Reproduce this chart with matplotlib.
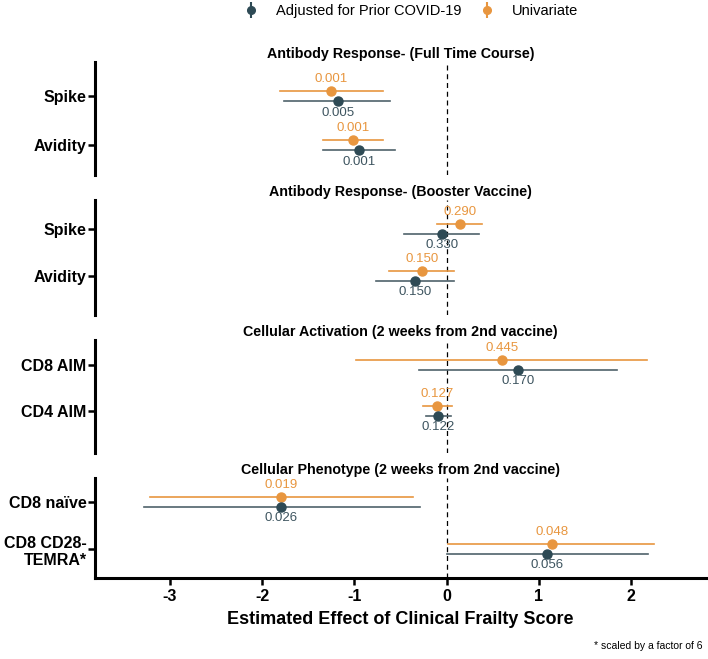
import matplotlib
matplotlib.use("Agg")
import matplotlib.pyplot as plt
from matplotlib.lines import Line2D
from matplotlib.legend_handler import HandlerTuple

# Panel titles and row labels (top row first)
titles = ["Antibody Response- (Full Time Course)",
          "Antibody Response- (Booster Vaccine)",
          "Cellular Activation (2 weeks from 2nd vaccine)",
          "Cellular Phenotype (2 weeks from 2nd vaccine)"]
rows = [["Spike", "Avidity"],
        ["Spike", "Avidity"],
        ["CD8 AIM", "CD4 AIM"],
        ["CD8 naïve", "CD8 CD28-\nTEMRA*"]]

# Univariate estimates
uni_est = [[-1.25, -1.01], [0.14, -0.27], [0.60, -0.10], [-1.79, 1.14]]
uni_lo = [[-1.81, -1.34], [-0.10, -0.63], [-0.98, -0.26], [-3.21, 0.02]]
uni_hi = [[-0.69, -0.69], [0.38, 0.08], [2.17, 0.06], [-0.36, 2.25]]
uni_p = [["0.001", "0.001"], ["0.290", "0.150"], ["0.445", "0.127"], ["0.019", "0.048"]]

# Adjusted for prior COVID-19
adj_est = [[-1.18, -0.95], [-0.05, -0.34], [0.77, -0.09], [-1.79, 1.09]]
adj_lo = [[-1.76, -1.34], [-0.46, -0.77], [-0.30, -0.22], [-3.28, 0.00]]
adj_hi = [[-0.61, -0.56], [0.35, 0.08], [1.85, 0.05], [-0.29, 2.18]]
adj_p = [["0.005", "0.001"], ["0.330", "0.150"], ["0.170", "0.122"], ["0.026", "0.056"]]

xticks = [-3, -2, -1, 0, 1, 2]

ORANGE = "#E8963F"
DARK = "#2E4A55"
DARK_LINE = "#4F626B"

plt.rcParams["font.family"] = ["Liberation Sans", "DejaVu Sans"]

W, H = 708, 659
fig = plt.figure(figsize=(W / 100, H / 100), dpi=100)

# axes boxes in pixels: (top, bottom) of left spine
boxes = [(62, 175), (200, 315), (340, 453), (478, 578)]
row_px = [(96, 145), (229, 276), (365, 411), (502, 549)]
left_px, right_px = 95, 706
off = 0.1

for i in range(4):
    top, bot = boxes[i]
    ax = fig.add_axes([left_px / W, 1 - bot / H, (right_px - left_px) / W, (bot - top) / H])
    r1, r2 = row_px[i]
    unit = r2 - r1
    ax.set_ylim(1 - (bot - r2) / unit, 2 + (r1 - top) / unit)
    ax.set_xlim(-3.81, 2.81)
    ax.axvline(0, color="black", lw=0.9, ls=(0, (4, 3)))
    for j in range(2):
        y = 2 - j
        ax.plot([uni_lo[i][j], uni_hi[i][j]], [y + off, y + off], color=ORANGE, lw=1.2)
        ax.plot(uni_est[i][j], y + off, "o", color=ORANGE, ms=6.5)
        ax.plot([adj_lo[i][j], adj_hi[i][j]], [y - off, y - off], color=DARK_LINE, lw=1.2)
        ax.plot(adj_est[i][j], y - off, "o", color=DARK, ms=6.5)
        ax.text(uni_est[i][j], y + off + 0.13, uni_p[i][j], color=ORANGE,
                ha="center", va="bottom", fontsize=9.5)
        ax.text(adj_est[i][j], y - off - 0.12, adj_p[i][j], color="#3E5560",
                ha="center", va="top", fontsize=9.5)
    ax.set_yticks([2, 1])
    ax.set_yticklabels(rows[i], fontsize=11.5, fontweight="bold",
                       multialignment="right")
    ax.tick_params(axis="y", length=5, width=1.8, pad=1)
    for s in ["top", "right"]:
        ax.spines[s].set_visible(False)
    ax.spines["left"].set_linewidth(2.2)
    ax.set_title(titles[i], fontsize=10.3, fontweight="bold", pad=3)
    if i < 3:
        ax.spines["bottom"].set_visible(False)
        ax.set_xticks([])
    else:
        ax.spines["bottom"].set_linewidth(2.2)
        ax.set_xticks(xticks)
        ax.set_xticklabels([str(t) for t in xticks], fontsize=11.5, fontweight="bold")
        ax.tick_params(axis="x", length=5, width=1.8, pad=3)
        ax.set_xlabel("Estimated Effect of Clinical Frailty Score", fontsize=13,
                      fontweight="bold", labelpad=5)

# pointrange-style legend keys: point with a short vertical bar
def key(c):
    return (Line2D([0], [0], color=c, marker="|", ms=12, mew=1.5, lw=0),
            Line2D([0], [0], color=c, marker="o", ms=5.5, lw=0))

fig.legend([key(DARK), key(ORANGE)], ["Adjusted for Prior COVID-19", "Univariate"],
           handler_map={tuple: HandlerTuple(ndivide=1)},
           loc="center", bbox_to_anchor=(411 / W, 1 - 11 / H), ncol=2, frameon=False,
           fontsize=10.5, handlelength=1.0, handletextpad=1.2, columnspacing=1.3)

fig.text(703 / W, 1 - 646 / H, "* scaled by a factor of 6", ha="right", va="center",
         fontsize=7.5)

fig.savefig("out.png", dpi=100)
